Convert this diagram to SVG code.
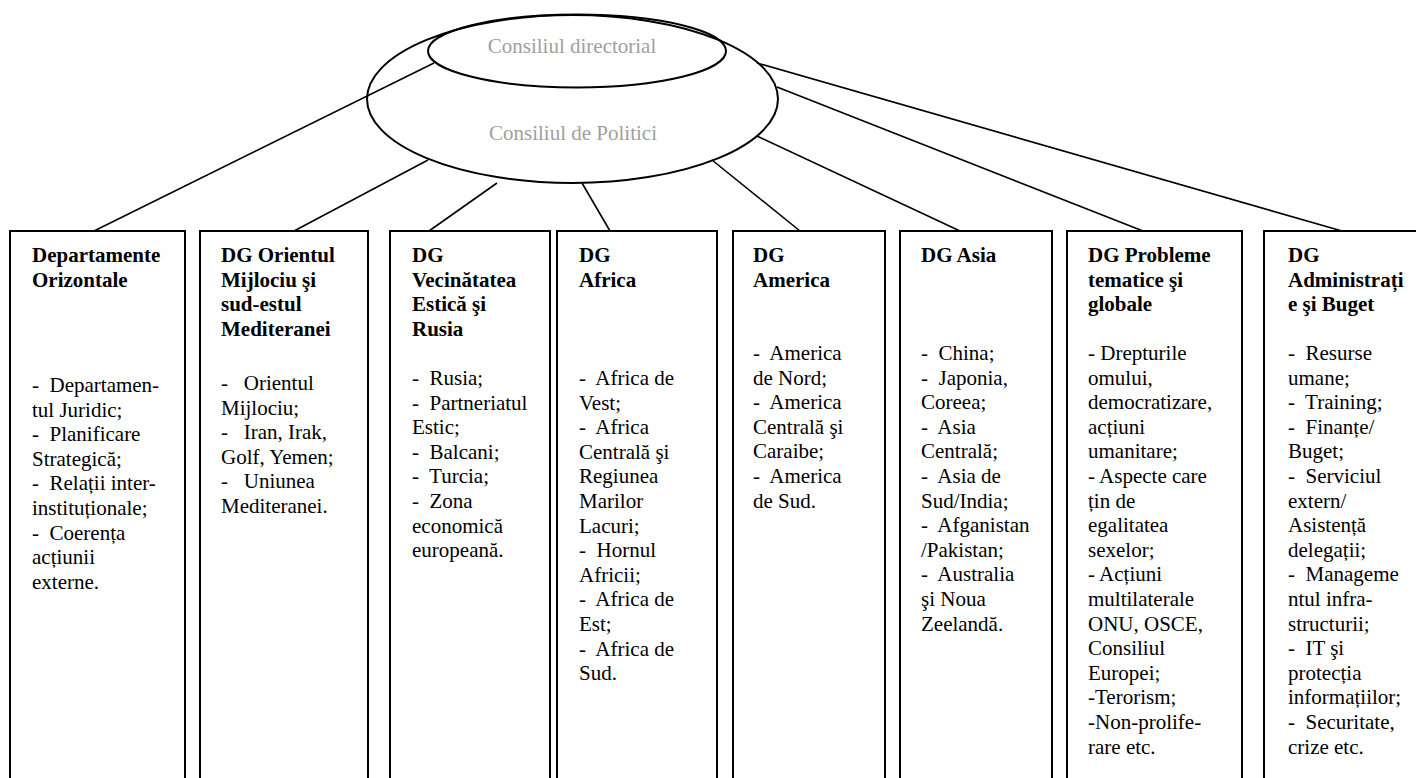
<svg xmlns="http://www.w3.org/2000/svg" width="1416" height="778" viewBox="0 0 1416 778">
<style>
.bg{fill:#ffffff}
.box{fill:none;stroke:#000;stroke-width:2}
.ell{fill:none;stroke:#000;stroke-width:2}
.con line{stroke:#000;stroke-width:1.6}
.h{font-family:"Liberation Serif","Times New Roman",serif;font-weight:bold;font-size:21px;fill:#000;white-space:pre}
.t{font-family:"Liberation Serif","Times New Roman",serif;font-size:21px;fill:#000;white-space:pre}
.g{font-family:"Liberation Serif","Times New Roman",serif;font-size:21px;fill:#a0a0a0;text-anchor:middle}
</style>
<rect class="bg" x="0" y="0" width="1416" height="778"/>
<g id="connectors" class="con">
<line x1="94" y1="231" x2="434" y2="63"/>
<line x1="294" y1="231" x2="428" y2="160"/>
<line x1="429" y1="231" x2="497" y2="183"/>
<line x1="610" y1="231" x2="582" y2="183"/>
<line x1="800" y1="231" x2="712" y2="160"/>
<line x1="960" y1="231" x2="757" y2="136"/>
<line x1="1143" y1="231" x2="777" y2="87"/>
<line x1="1342" y1="231" x2="757" y2="63"/>
</g>
<g id="consiliul-politici">
<ellipse class="ell" cx="572.5" cy="99" rx="205.5" ry="84"/>
<text class="g" x="573" y="140">Consiliul de Politici</text>
</g>
<g id="consiliul-directorial">
<ellipse class="ell" cx="577" cy="51" rx="149" ry="36.5"/>
<text class="g" x="572" y="53">Consiliul directorial</text>
</g>
<g id="dep-orizontale">
<rect class="box" x="10" y="231" width="175" height="560"/>
<text class="h"><tspan x="32" y="262">Departamente</tspan><tspan x="32" dy="24.6">Orizontale</tspan></text>
<text class="t"><tspan x="32" y="392">-  Departamen-</tspan><tspan x="32" dy="24.6">tul Juridic;</tspan><tspan x="32" dy="24.6">-  Planificare</tspan><tspan x="32" dy="24.6">Strategică;</tspan><tspan x="32" dy="24.6">-  Relații inter-</tspan><tspan x="32" dy="24.6">instituționale;</tspan><tspan x="32" dy="24.6">-  Coerența</tspan><tspan x="32" dy="24.6">acțiunii</tspan><tspan x="32" dy="24.6">externe.</tspan></text>
</g>
<g id="dg-orientul">
<rect class="box" x="200" y="231" width="168" height="560"/>
<text class="h"><tspan x="221" y="262">DG Orientul</tspan><tspan x="221" dy="24.6">Mijlociu şi</tspan><tspan x="221" dy="24.6">sud-estul</tspan><tspan x="221" dy="24.6">Mediteranei</tspan></text>
<text class="t"><tspan x="221" y="390">-   Orientul</tspan><tspan x="221" dy="24.6">Mijlociu;</tspan><tspan x="221" dy="24.6">-   Iran, Irak,</tspan><tspan x="221" dy="24.6">Golf, Yemen;</tspan><tspan x="221" dy="24.6">-   Uniunea</tspan><tspan x="221" dy="24.6">Mediteranei.</tspan></text>
</g>
<g id="dg-vecinatatea">
<rect class="box" x="390" y="231" width="160" height="560"/>
<text class="h"><tspan x="412" y="262">DG</tspan><tspan x="412" dy="24.6">Vecinătatea</tspan><tspan x="412" dy="24.6">Estică şi</tspan><tspan x="412" dy="24.6">Rusia</tspan></text>
<text class="t"><tspan x="412" y="385">-  Rusia;</tspan><tspan x="412" dy="24.6">-  Partneriatul</tspan><tspan x="412" dy="24.6">Estic;</tspan><tspan x="412" dy="24.6">-  Balcani;</tspan><tspan x="412" dy="24.6">-  Turcia;</tspan><tspan x="412" dy="24.6">-  Zona</tspan><tspan x="412" dy="24.6">economică</tspan><tspan x="412" dy="24.6">europeană.</tspan></text>
</g>
<g id="dg-africa">
<rect class="box" x="557" y="231" width="160" height="560"/>
<text class="h"><tspan x="579" y="262">DG</tspan><tspan x="579" dy="24.6">Africa</tspan></text>
<text class="t"><tspan x="579" y="385">-  Africa de</tspan><tspan x="579" dy="24.6">Vest;</tspan><tspan x="579" dy="24.6">-  Africa</tspan><tspan x="579" dy="24.6">Centrală şi</tspan><tspan x="579" dy="24.6">Regiunea</tspan><tspan x="579" dy="24.6">Marilor</tspan><tspan x="579" dy="24.6">Lacuri;</tspan><tspan x="579" dy="24.6">-  Hornul</tspan><tspan x="579" dy="24.6">Africii;</tspan><tspan x="579" dy="24.6">-  Africa de</tspan><tspan x="579" dy="24.6">Est;</tspan><tspan x="579" dy="24.6">-  Africa de</tspan><tspan x="579" dy="24.6">Sud.</tspan></text>
</g>
<g id="dg-america">
<rect class="box" x="733" y="231" width="152" height="560"/>
<text class="h"><tspan x="753" y="262">DG</tspan><tspan x="753" dy="24.6">America</tspan></text>
<text class="t"><tspan x="753" y="360">-  America</tspan><tspan x="753" dy="24.6">de Nord;</tspan><tspan x="753" dy="24.6">-  America</tspan><tspan x="753" dy="24.6">Centrală şi</tspan><tspan x="753" dy="24.6">Caraibe;</tspan><tspan x="753" dy="24.6">-  America</tspan><tspan x="753" dy="24.6">de Sud.</tspan></text>
</g>
<g id="dg-asia">
<rect class="box" x="900" y="231" width="152" height="560"/>
<text class="h"><tspan x="921" y="262">DG Asia</tspan></text>
<text class="t"><tspan x="921" y="360">-  China;</tspan><tspan x="921" dy="24.6">-  Japonia,</tspan><tspan x="921" dy="24.6">Coreea;</tspan><tspan x="921" dy="24.6">-  Asia</tspan><tspan x="921" dy="24.6">Centrală;</tspan><tspan x="921" dy="24.6">-  Asia de</tspan><tspan x="921" dy="24.6">Sud/India;</tspan><tspan x="921" dy="24.6">-  Afganistan</tspan><tspan x="921" dy="24.6">/Pakistan;</tspan><tspan x="921" dy="24.6">-  Australia</tspan><tspan x="921" dy="24.6">şi Noua</tspan><tspan x="921" dy="24.6">Zeelandă.</tspan></text>
</g>
<g id="dg-probleme">
<rect class="box" x="1067" y="231" width="175" height="560"/>
<text class="h"><tspan x="1088" y="262">DG Probleme</tspan><tspan x="1088" dy="24.6">tematice şi</tspan><tspan x="1088" dy="24.6">globale</tspan></text>
<text class="t"><tspan x="1088" y="360">- Drepturile</tspan><tspan x="1088" dy="24.6">omului,</tspan><tspan x="1088" dy="24.6">democratizare,</tspan><tspan x="1088" dy="24.6">acțiuni</tspan><tspan x="1088" dy="24.6">umanitare;</tspan><tspan x="1088" dy="24.6">- Aspecte care</tspan><tspan x="1088" dy="24.6">țin de</tspan><tspan x="1088" dy="24.6">egalitatea</tspan><tspan x="1088" dy="24.6">sexelor;</tspan><tspan x="1088" dy="24.6">- Acțiuni</tspan><tspan x="1088" dy="24.6">multilaterale</tspan><tspan x="1088" dy="24.6">ONU, OSCE,</tspan><tspan x="1088" dy="24.6">Consiliul</tspan><tspan x="1088" dy="24.6">Europei;</tspan><tspan x="1088" dy="24.6">-Terorism;</tspan><tspan x="1088" dy="24.6">-Non-prolife-</tspan><tspan x="1088" dy="24.6">rare etc.</tspan></text>
</g>
<g id="dg-administratie">
<rect class="box" x="1264" y="231" width="160" height="560"/>
<text class="h"><tspan x="1288" y="262">DG</tspan><tspan x="1288" dy="24.6">Administrați</tspan><tspan x="1288" dy="24.6">e şi Buget</tspan></text>
<text class="t"><tspan x="1288" y="360">-  Resurse</tspan><tspan x="1288" dy="24.6">umane;</tspan><tspan x="1288" dy="24.6">-  Training;</tspan><tspan x="1288" dy="24.6">-  Finanțe/</tspan><tspan x="1288" dy="24.6">Buget;</tspan><tspan x="1288" dy="24.6">-  Serviciul</tspan><tspan x="1288" dy="24.6">extern/</tspan><tspan x="1288" dy="24.6">Asistență</tspan><tspan x="1288" dy="24.6">delegații;</tspan><tspan x="1288" dy="24.6">-  Manageme</tspan><tspan x="1288" dy="24.6">ntul infra-</tspan><tspan x="1288" dy="24.6">structurii;</tspan><tspan x="1288" dy="24.6">-  IT şi</tspan><tspan x="1288" dy="24.6">protecția</tspan><tspan x="1288" dy="24.6">informațiilor;</tspan><tspan x="1288" dy="24.6">-  Securitate,</tspan><tspan x="1288" dy="24.6">crize etc.</tspan></text>
</g>
</svg>
